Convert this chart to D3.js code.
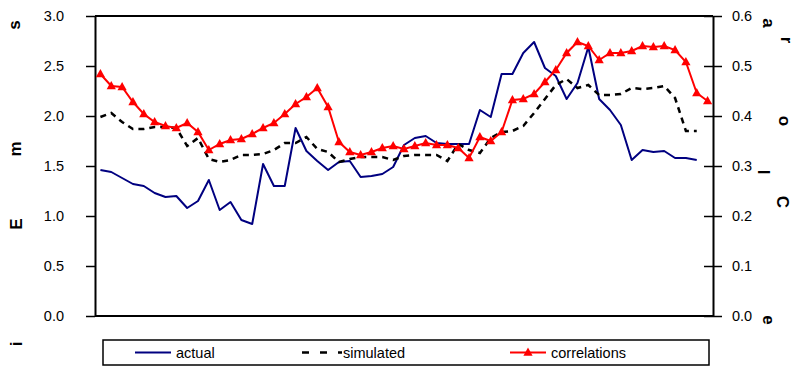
<!DOCTYPE html>
<html>
<head>
<meta charset="utf-8">
<script src="https://cdn.jsdelivr.net/npm/d3@7/dist/d3.min.js"></script>
<style>
  html, body { margin: 0; padding: 0; background: #fff; }
  svg { display: block; }
  text { font-family: "Liberation Sans", Arial, sans-serif; }
</style>
</head>
<body>
<svg id="chart" width="796" height="372"></svg>
<script>
// ---------------- DATA ----------------
const categories = [1,2,3,4,5,6,7,8,9,10,11,12,13,14,15,16,17,18,19,20,
  21,22,23,24,25,26,27,28,29,30,31,32,33,34,35,36,37,38,39,40,
  41,42,43,44,45,46,47,48,49,50,51,52,53,54,55,56,57];

const actual = [1.46,1.44,1.38,1.32,1.30,1.23,1.19,1.20,1.08,1.15,
  1.36,1.06,1.14,0.96,0.92,1.52,1.30,1.30,1.88,1.65,
  1.55,1.46,1.54,1.55,1.39,1.40,1.42,1.49,1.71,1.78,
  1.80,1.73,1.72,1.72,1.72,2.06,1.99,2.42,2.42,2.63,
  2.74,2.48,2.40,2.17,2.33,2.69,2.17,2.06,1.91,1.56,
  1.66,1.64,1.65,1.58,1.58,1.56];

const simulated = [1.99,2.03,1.94,1.87,1.87,1.89,1.89,1.88,1.70,1.78,
  1.57,1.54,1.56,1.61,1.61,1.62,1.66,1.73,1.73,1.79,
  1.67,1.64,1.54,1.57,1.59,1.59,1.59,1.56,1.60,1.61,
  1.61,1.61,1.55,1.72,1.66,1.63,1.78,1.84,1.85,1.90,
  2.03,2.17,2.31,2.37,2.28,2.31,2.21,2.21,2.22,2.28,
  2.27,2.28,2.30,2.18,1.85,1.85];

const correlations = [0.484,0.460,0.458,0.428,0.404,0.388,0.380,0.376,0.386,0.368,
  0.332,0.344,0.352,0.354,0.364,0.376,0.386,0.404,0.424,0.438,
  0.456,0.418,0.348,0.328,0.322,0.328,0.336,0.340,0.334,0.340,
  0.346,0.342,0.342,0.336,0.316,0.358,0.350,0.368,0.432,0.434,
  0.444,0.468,0.492,0.526,0.548,0.540,0.512,0.526,0.526,0.530,
  0.540,0.538,0.540,0.532,0.508,0.446,0.430];

const leftTicks = [0, 0.5, 1.0, 1.5, 2.0, 2.5, 3.0];
const rightTicks = [0, 0.1, 0.2, 0.3, 0.4, 0.5, 0.6];
const seriesNames = ["actual", "simulated", "correlations"];
const leftTitleLetters = ["s", "m", "E", "i"];
const rightTitleLetters = ["a", "r", "o", "l", "C", "e"];

// ---------------- LAYOUT ----------------
const plot = { left: 95, right: 713, top: 16, bottom: 316 };
const leftLetterPos = [[20.4, 25], [21.4, 149], [22.1, 224], [22.1, 344]];
const rightLetterPos = [[762.6, 23], [780.6, 40], [778.6, 121], [757.9, 172], [776.9, 202], [762.6, 320]];

const svg = d3.select("#chart");

const x = d3.scalePoint()
  .domain(categories)
  .range([plot.left, plot.right])
  .padding(0.5);
const yL = d3.scaleLinear().domain([0, 3]).range([plot.bottom, plot.top]);
const yR = d3.scaleLinear().domain([0, 0.6]).range([plot.bottom, plot.top]);

// frame
svg.append("line").attr("x1", plot.left).attr("x2", plot.right)
  .attr("y1", plot.top).attr("y2", plot.top)
  .attr("stroke", "#000").attr("stroke-width", 2);
svg.append("line").attr("x1", plot.left).attr("x2", plot.right)
  .attr("y1", plot.bottom).attr("y2", plot.bottom)
  .attr("stroke", "#000").attr("stroke-width", 2);

// left axis
const leftAxis = d3.axisLeft(yL).tickValues(leftTicks)
  .tickFormat(d3.format(".1f")).tickSizeInner(9).tickSizeOuter(0).tickPadding(22);
const gL = svg.append("g").attr("transform", `translate(${plot.left},0)`).call(leftAxis);
gL.select(".domain").attr("stroke", "#000").attr("stroke-width", 2);
gL.selectAll(".tick line").attr("stroke", "#000").attr("stroke-width", 1.5);
gL.selectAll(".tick text").attr("font-size", "14.5px").attr("fill", "#000")
  .attr("font-family", "'Liberation Sans', Arial, sans-serif");

// right axis
const rightAxis = d3.axisRight(yR).tickValues(rightTicks)
  .tickFormat(d3.format(".1f")).tickSizeInner(9).tickSizeOuter(0).tickPadding(10);
const gR = svg.append("g").attr("transform", `translate(${plot.right},0)`).call(rightAxis);
gR.select(".domain").attr("stroke", "#000").attr("stroke-width", 2);
gR.selectAll(".tick line").attr("stroke", "#000").attr("stroke-width", 1.5).attr("x1", -9);
gR.selectAll(".tick text").attr("font-size", "14.5px").attr("fill", "#000")
  .attr("font-family", "'Liberation Sans', Arial, sans-serif");

// title letters
svg.selectAll("text.lt").data(leftTitleLetters).join("text")
  .attr("class", "lt")
  .attr("transform", (d, i) => `translate(${leftLetterPos[i][0]},${leftLetterPos[i][1]}) rotate(-90)`)
  .attr("text-anchor", "middle")
  .attr("font-size", "17px").attr("font-weight", "bold").attr("fill", "#000")
  .text(d => d);
svg.selectAll("text.rt").data(rightTitleLetters).join("text")
  .attr("class", "rt")
  .attr("transform", (d, i) => `translate(${rightLetterPos[i][0]},${rightLetterPos[i][1]}) rotate(90)`)
  .attr("text-anchor", "middle")
  .attr("font-size", "17px").attr("font-weight", "bold").attr("fill", "#000")
  .text(d => d);

// lines
const lineL = d3.line().x((d, i) => x(categories[i])).y(d => yL(d));
const lineR = d3.line().x((d, i) => x(categories[i])).y(d => yR(d));

svg.append("path").datum(actual).attr("d", lineL)
  .attr("fill", "none").attr("stroke", "#000080").attr("stroke-width", 2)
  .attr("stroke-linejoin", "round");
svg.append("path").datum(simulated).attr("d", lineL)
  .attr("fill", "none").attr("stroke", "#000").attr("stroke-width", 2.5)
  .attr("stroke-dasharray", "6,5");
svg.append("path").datum(correlations).attr("d", lineR)
  .attr("fill", "none").attr("stroke", "#ff0000").attr("stroke-width", 2);

const tri = "M0,-5L4.6,3.2L-4.6,3.2Z";
svg.selectAll("path.mk").data(correlations).join("path")
  .attr("class", "mk")
  .attr("d", tri)
  .attr("transform", (d, i) => `translate(${x(categories[i])},${yR(d)})`)
  .attr("fill", "#ff0000");

// legend
const lg = svg.append("g");
lg.append("rect").attr("x", 103).attr("y", 340).attr("width", 606).attr("height", 25)
  .attr("fill", "#fff").attr("stroke", "#000").attr("stroke-width", 1.5);
const ly = 352.5;
lg.append("line").attr("x1", 135).attr("x2", 171).attr("y1", ly).attr("y2", ly)
  .attr("stroke", "#000080").attr("stroke-width", 2);
lg.append("line").attr("x1", 302).attr("x2", 342).attr("y1", ly).attr("y2", ly)
  .attr("stroke", "#000").attr("stroke-width", 2.5).attr("stroke-dasharray", "7,11");
lg.append("line").attr("x1", 510).attr("x2", 546).attr("y1", ly).attr("y2", ly)
  .attr("stroke", "#ff0000").attr("stroke-width", 2);
lg.append("path").attr("d", tri).attr("transform", `translate(528,${ly})`).attr("fill", "#ff0000");
const lx = [176, 343, 551];
lg.selectAll("text").data(seriesNames).join("text")
  .attr("x", (d, i) => lx[i]).attr("y", ly + 5.5)
  .attr("font-size", "14.5px").attr("fill", "#000")
  .text(d => d);
</script>
</body>
</html>
